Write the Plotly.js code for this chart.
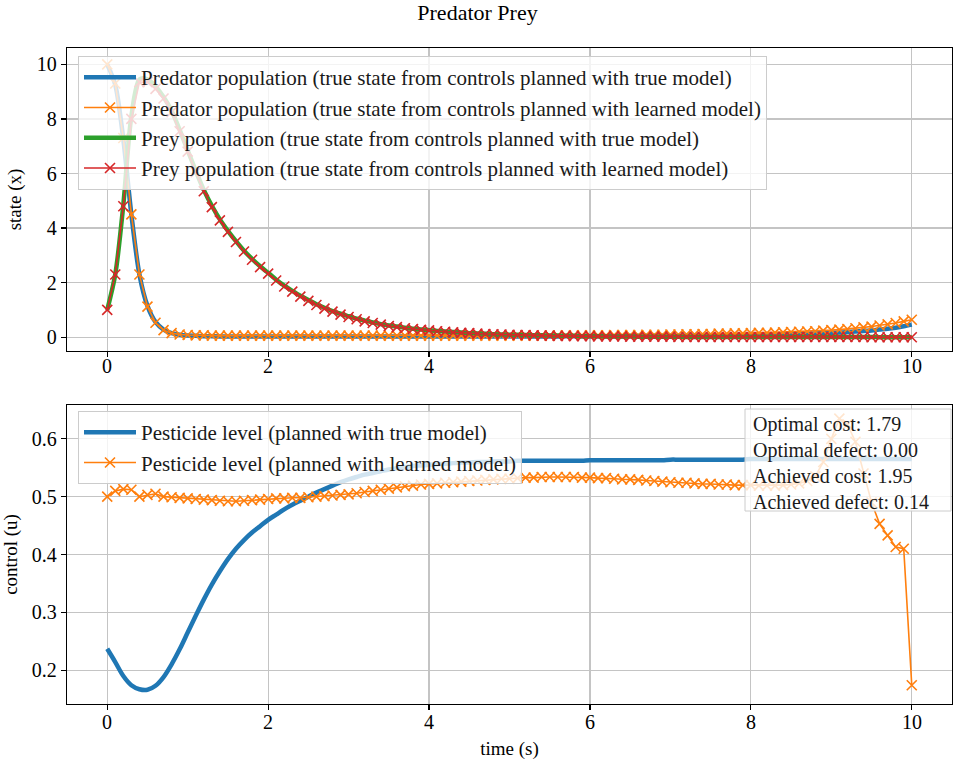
<!DOCTYPE html>
<html>
<head>
<meta charset="utf-8">
<script src="https://cdn.plot.ly/plotly-3.0.1.min.js"></script>
<style>html,body{margin:0;padding:0;background:#fff;}#chart{width:955px;height:763px;}</style>
</head>
<body>
<div id="chart"></div>
<script>
// ---- data ----
const time = [0.0,0.1,0.2,0.3,0.4,0.5,0.6,0.7,0.8,0.9,
  1.0,1.1,1.2,1.3,1.4,1.5,1.6,1.7,1.8,1.9,
  2.0,2.1,2.2,2.3,2.4,2.5,2.6,2.7,2.8,2.9,
  3.0,3.1,3.2,3.3,3.4,3.5,3.6,3.7,3.8,3.9,
  4.0,4.1,4.2,4.3,4.4,4.5,4.6,4.7,4.8,4.9,
  5.0,5.1,5.2,5.3,5.4,5.5,5.6,5.7,5.8,5.9,
  6.0,6.1,6.2,6.3,6.4,6.5,6.6,6.7,6.8,6.9,
  7.0,7.1,7.2,7.3,7.4,7.5,7.6,7.7,7.8,7.9,
  8.0,8.1,8.2,8.3,8.4,8.5,8.6,8.7,8.8,8.9,
  9.0,9.1,9.2,9.3,9.4,9.5,9.6,9.7,9.8,9.9,10.0];

const predatorTrue = [10.00,9.25,7.25,4.50,2.30,1.15,0.56,0.28,0.15,0.09,
  0.06,0.05,0.04,0.04,0.03,0.03,0.03,0.03,0.03,0.03,
  0.03,0.03,0.03,0.03,0.03,0.03,0.03,0.03,0.03,0.03,
  0.03,0.03,0.03,0.03,0.03,0.03,0.03,0.03,0.03,0.03,
  0.03,0.03,0.03,0.03,0.03,0.03,0.03,0.03,0.03,0.03,
  0.03,0.03,0.03,0.03,0.03,0.03,0.03,0.04,0.04,0.04,
  0.04,0.04,0.04,0.04,0.04,0.05,0.05,0.05,0.05,0.05,
  0.05,0.05,0.06,0.06,0.06,0.07,0.07,0.07,0.08,0.08,
  0.09,0.09,0.10,0.10,0.11,0.12,0.12,0.13,0.14,0.15,
  0.16,0.17,0.19,0.21,0.23,0.25,0.28,0.31,0.35,0.40,0.46];

const predatorLearned = [10.00,9.30,7.30,4.50,2.30,1.12,0.53,0.26,0.15,0.10,
  0.08,0.07,0.07,0.06,0.06,0.06,0.06,0.06,0.06,0.06,
  0.06,0.06,0.06,0.06,0.06,0.06,0.06,0.06,0.06,0.06,
  0.06,0.06,0.06,0.06,0.06,0.06,0.06,0.06,0.06,0.06,
  0.06,0.06,0.06,0.06,0.06,0.06,0.06,0.06,0.06,0.06,
  0.06,0.06,0.06,0.06,0.06,0.06,0.06,0.07,0.07,0.07,
  0.07,0.07,0.07,0.08,0.08,0.08,0.08,0.09,0.09,0.09,
  0.10,0.10,0.11,0.11,0.12,0.12,0.13,0.13,0.14,0.14,
  0.15,0.16,0.16,0.17,0.18,0.19,0.20,0.21,0.22,0.24,
  0.26,0.28,0.30,0.33,0.36,0.39,0.43,0.47,0.52,0.58,0.64];

const preyTrue = [1.00,2.30,4.85,8.10,9.45,9.45,9.20,8.80,8.30,7.60,
  6.85,6.10,5.40,4.82,4.32,3.90,3.52,3.17,2.87,2.60,
  2.36,2.11,1.89,1.70,1.52,1.36,1.21,1.08,0.96,0.86,
  0.77,0.68,0.61,0.54,0.48,0.43,0.39,0.35,0.31,0.28,
  0.26,0.23,0.21,0.19,0.17,0.15,0.14,0.13,0.11,0.10,
  0.09,0.09,0.08,0.07,0.07,0.06,0.06,0.05,0.05,0.04,
  0.04,0.04,0.03,0.03,0.03,0.03,0.02,0.02,0.02,0.02,
  0.02,0.02,0.01,0.01,0.01,0.01,0.01,0.01,0.01,0.01,
  0.01,0.01,0.01,0.01,0.01,0.01,0.01,0.01,0.01,0.01,
  0.01,0.01,0.01,0.01,0.01,0.01,0.00,0.00,0.00,0.00,0.00];

const preyLearned = [1.00,2.30,4.80,8.00,9.35,9.35,9.10,8.75,8.25,7.55,
  6.80,6.05,5.35,4.77,4.28,3.86,3.49,3.14,2.84,2.57,
  2.33,2.08,1.86,1.67,1.49,1.33,1.18,1.05,0.94,0.83,
  0.74,0.66,0.58,0.52,0.46,0.41,0.37,0.33,0.30,0.27,
  0.25,0.22,0.20,0.18,0.16,0.15,0.13,0.12,0.11,0.10,
  0.09,0.08,0.08,0.07,0.06,0.06,0.05,0.05,0.04,0.04,
  0.04,0.03,0.03,0.03,0.03,0.02,0.02,0.02,0.02,0.02,
  0.02,0.01,0.01,0.01,0.01,0.01,0.01,0.01,0.01,0.01,
  0.01,0.01,0.01,0.01,0.01,0.01,0.01,0.01,0.01,0.01,
  0.01,0.01,0.01,0.01,0.01,0.00,0.00,0.00,0.00,0.00,0.00];

const pesticideTrue = [0.237,0.214,0.190,0.174,0.167,0.166,0.173,0.188,0.210,0.236,
  0.265,0.294,0.322,0.348,0.371,0.392,0.410,0.425,0.438,0.449,
  0.460,0.469,0.478,0.486,0.493,0.500,0.507,0.513,0.519,0.525,
  0.530,0.534,0.538,0.541,0.544,0.547,0.549,0.551,0.553,0.554,
  0.555,0.556,0.557,0.558,0.559,0.559,0.560,0.560,0.561,0.561,
  0.561,0.562,0.562,0.562,0.562,0.562,0.562,0.562,0.562,0.562,
  0.563,0.563,0.563,0.563,0.563,0.563,0.563,0.563,0.563,0.563,
  0.564,0.564,0.564,0.564,0.564,0.564,0.564,0.564,0.564,0.564,
  0.565,0.565,0.565,0.565,0.565,0.565,0.565,0.565,0.565,0.565,
  0.565,0.565,0.565,0.565,0.565,0.565,0.565,0.565,0.565,0.565,0.565];

const pesticideLearned = [0.500,0.510,0.513,0.512,0.500,0.503,0.505,0.500,0.499,0.498,
  0.497,0.496,0.495,0.494,0.493,0.492,0.492,0.493,0.494,0.495,
  0.496,0.497,0.497,0.498,0.498,0.499,0.500,0.501,0.502,0.503,
  0.504,0.506,0.508,0.510,0.512,0.514,0.516,0.518,0.519,0.521,
  0.522,0.523,0.524,0.525,0.526,0.527,0.528,0.529,0.530,0.531,
  0.531,0.532,0.533,0.533,0.534,0.534,0.534,0.534,0.534,0.533,
  0.533,0.532,0.532,0.531,0.530,0.530,0.529,0.528,0.527,0.526,
  0.525,0.524,0.524,0.523,0.522,0.522,0.521,0.521,0.520,0.520,
  0.520,0.519,0.519,0.519,0.520,0.521,0.523,0.527,0.535,0.560,
  0.600,0.635,0.625,0.595,0.540,0.490,0.453,0.433,0.413,0.410,0.174];

const statsLines = ["Optimal cost: 1.79","Optimal defect: 0.00","Achieved cost: 1.95","Achieved defect: 0.14"];
const xTicks = [0,2,4,6,8,10];
const xTickText = ["0","2","4","6","8","10"];

// ---- styling ----
const FONT = "Liberation Serif, DejaVu Serif, serif";
const FS = 20;
const LFS = 21;
const C = {blue:'#1f77b4', orange:'#ff7f0e', green:'#2ca02c', red:'#d62728'};
const xMark = (c)=>({symbol:'x-thin', size:10, color:c, line:{color:c, width:1.6}});

const traces = [
  {x:time, y:predatorTrue, mode:'lines', line:{color:C.blue, width:4.5, shape:'spline', smoothing:0.8}, name:'Predator population (true state from controls planned with true model)', xaxis:'x', yaxis:'y', legend:'legend'},
  {x:time, y:predatorLearned, mode:'lines+markers', line:{color:C.orange, width:1.6}, marker:xMark(C.orange), name:'Predator population (true state from controls planned with learned model)', xaxis:'x', yaxis:'y', legend:'legend'},
  {x:time, y:preyTrue, mode:'lines', line:{color:C.green, width:4.5, shape:'spline', smoothing:0.8}, name:'Prey population (true state from controls planned with true model)', xaxis:'x', yaxis:'y', legend:'legend'},
  {x:time, y:preyLearned, mode:'lines+markers', line:{color:C.red, width:1.6}, marker:xMark(C.red), name:'Prey population (true state from controls planned with learned model)', xaxis:'x', yaxis:'y', legend:'legend'},
  {x:time, y:pesticideTrue, mode:'lines', line:{color:C.blue, width:4.5, shape:'spline', smoothing:1}, name:'Pesticide level (planned with true model)', xaxis:'x2', yaxis:'y2', legend:'legend2'},
  {x:time, y:pesticideLearned, mode:'lines+markers', line:{color:C.orange, width:1.6}, marker:xMark(C.orange), name:'Pesticide level (planned with learned model)', xaxis:'x2', yaxis:'y2', legend:'legend2'}
];

const axBase = {
  showline:true, mirror:true, linecolor:'#000', linewidth:1.2,
  ticks:'outside', ticklen:5, tickwidth:1.2, tickcolor:'#000',
  showgrid:true, gridcolor:'#c4c4c4', gridwidth:1.2, zeroline:false,
  tickfont:{family:FONT, size:FS, color:'#000'}
};

const M = {l:67, r:3, t:48, b:59};
const PW = 955 - M.l - M.r, PH = 763 - M.t - M.b;
const px2x = (px)=> (px - M.l)/PW;
const px2y = (py)=> (763 - M.b - py)/PH;

const legendBase = {
  bgcolor:'rgba(255,255,255,0.8)', bordercolor:'#cccccc', borderwidth:1,
  font:{family:FONT, size:LFS, color:'#1a1a1a'}, xanchor:'left', yanchor:'top',
  itemwidth:52
};

// x tick labels placed through the x axes' own scale
const tickAnn = [];
[['x', 366], ['x2', 722]].forEach(([ax, py])=>{
  xTicks.forEach((v,i)=>tickAnn.push({xref:ax, yref:'paper', x:v, y:px2y(py), xanchor:'center', yanchor:'middle',
    text:xTickText[i], showarrow:false, font:{family:FONT, size:FS, color:'#000'}}));
});

const layout = {
  width:955, height:763, margin:M, paper_bgcolor:'#fff', plot_bgcolor:'#fff',
  showlegend:true,
  title:{text:'Predator Prey', x:0.5, xanchor:'center', y:1-5/763, yanchor:'top', yref:'container', font:{family:FONT, size:22, color:'#000'}},
  xaxis: Object.assign({}, axBase, {domain:[0,1], anchor:'y', range:[-0.5,10.5], tickvals:xTicks, showticklabels:false}),
  yaxis: Object.assign({}, axBase, {domain:[px2y(351), px2y(48)], anchor:'x', range:[-0.505,10.6], tickvals:[0,2,4,6,8,10],
    title:{text:'state (x)', standoff:10, font:{family:FONT, size:FS-1, color:'#000'}}}),
  xaxis2: Object.assign({}, axBase, {domain:[0,1], anchor:'y2', range:[-0.5,10.5], tickvals:xTicks, showticklabels:false,
    title:{text:'time (s)', standoff:32, font:{family:FONT, size:FS-1, color:'#000'}}}),
  yaxis2: Object.assign({}, axBase, {domain:[0, px2y(405)], anchor:'x2', range:[0.1415,0.6585], tickvals:[0.2,0.3,0.4,0.5,0.6], tickformat:'.1f',
    title:{text:'control (u)', standoff:10, font:{family:FONT, size:FS-1, color:'#000'}}}),
  legend: Object.assign({}, legendBase, {x:px2x(78), y:px2y(56)}),
  legend2: Object.assign({}, legendBase, {x:px2x(78), y:px2y(411)}),
  shapes:[{type:'rect', xref:'paper', yref:'paper', x0:px2x(745), x1:px2x(951), y0:px2y(511), y1:px2y(409),
    fillcolor:'rgba(255,255,255,0.8)', line:{color:'#cccccc', width:1}, layer:'above'}],
  annotations: tickAnn.concat([{
    xref:'paper', yref:'paper', x:px2x(751), y:px2y(411), xanchor:'left', yanchor:'top', align:'left',
    text:statsLines.join('<br>'), showarrow:false, font:{family:FONT, size:20, color:'#1a1a1a'}
  }])
};

Plotly.newPlot('chart', traces, layout, {displayModeBar:false, staticPlot:true});
</script>
</body>
</html>
